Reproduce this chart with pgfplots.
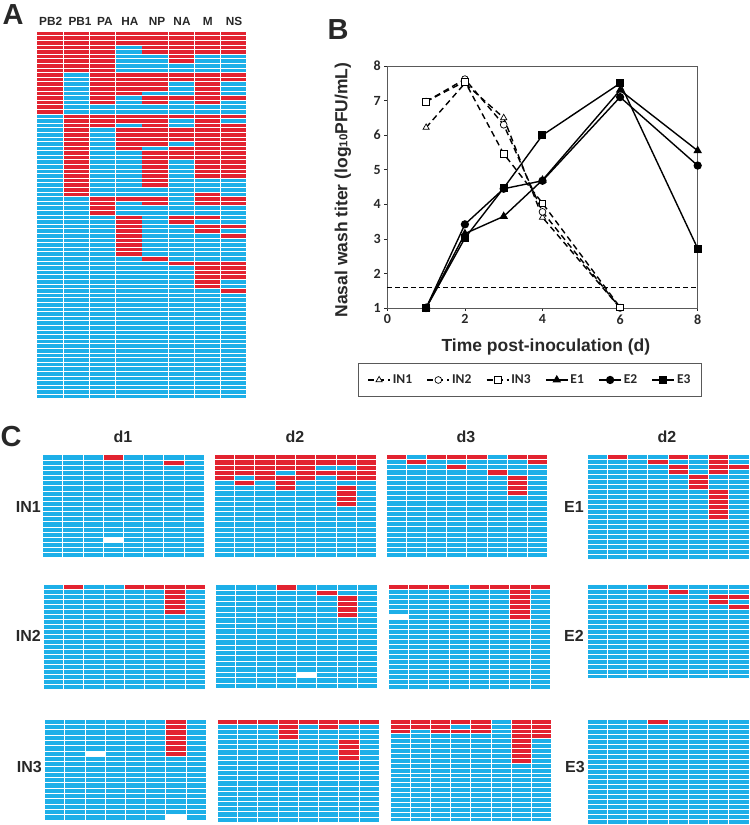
\documentclass[border=0pt]{standalone}
\usepackage{fontspec}
\setmainfont{Liberation Sans}
\newfontfamily\carlito{Carlito}
\usepackage{pgfplots}
\usepackage{pgfplotstable}
\pgfplotsset{compat=1.18}
\definecolor{cellblue}{RGB}{29,175,232}
\definecolor{cellred}{RGB}{226,35,48}
\definecolor{ink}{RGB}{40,40,40}
\pgfdeclareplotmark{cell}{\pgfpathrectangle{\pgfpoint{-0.5*\cellw pt}{-0.5*\cellh pt}}{\pgfpoint{\cellw pt}{\cellh pt}}\pgfusepathqfill}
\newcommand\fs[1]{\fontsize{#1}{#1}\selectfont}

% panel A: 0 blue, 1 red
\pgfplotstableread[header=false]{
1 1 1 1 1 1 1 1
1 1 1 1 1 1 1 1
1 1 1 1 1 1 1 1
1 1 1 0 1 1 1 1
1 1 1 0 1 1 1 1
1 1 1 0 0 1 0 0
1 1 1 0 0 1 0 0
1 1 1 0 0 0 0 0
1 1 1 0 0 0 0 0
1 0 1 1 1 1 1 1
1 0 1 1 1 1 1 1
1 0 1 1 1 0 1 0
1 0 1 1 1 0 1 0
1 0 1 1 0 0 1 0
1 0 1 0 1 1 1 1
1 0 1 0 1 0 1 0
1 0 0 0 0 0 0 0
1 0 0 0 0 0 0 0
0 1 1 1 1 1 1 1
0 1 1 1 1 0 1 0
0 1 1 0 1 0 1 1
0 1 0 1 1 1 1 1
0 1 0 1 1 1 1 1
0 1 0 1 1 1 1 1
0 1 0 1 1 0 1 1
0 1 0 1 0 1 1 1
0 1 0 0 1 1 1 1
0 1 0 0 1 1 1 1
0 1 0 0 1 0 1 1
0 1 0 0 1 0 1 1
0 1 0 0 1 0 1 1
0 1 0 0 1 0 1 1
0 1 0 0 1 0 0 0
0 1 0 0 1 0 0 0
0 1 0 0 0 0 0 0
0 1 0 0 0 0 1 0
0 0 1 1 1 0 1 1
0 0 1 0 1 0 1 1
0 0 1 0 0 0 0 0
0 0 1 0 0 0 0 0
0 0 0 1 0 1 1 0
0 0 0 1 0 1 0 0
0 0 0 1 0 0 1 1
0 0 0 1 0 0 1 0
0 0 0 1 0 0 0 1
0 0 0 1 0 0 0 0
0 0 0 1 0 0 0 0
0 0 0 1 0 0 0 0
0 0 0 1 0 0 0 0
0 0 0 0 1 0 0 0
0 0 0 0 0 1 1 1
0 0 0 0 0 0 1 1
0 0 0 0 0 0 1 1
0 0 0 0 0 0 1 1
0 0 0 0 0 0 1 0
0 0 0 0 0 0 1 0
0 0 0 0 0 0 0 1
0 0 0 0 0 0 0 0
0 0 0 0 0 0 0 0
0 0 0 0 0 0 0 0
0 0 0 0 0 0 0 0
0 0 0 0 0 0 0 0
0 0 0 0 0 0 0 0
0 0 0 0 0 0 0 0
0 0 0 0 0 0 0 0
0 0 0 0 0 0 0 0
0 0 0 0 0 0 0 0
0 0 0 0 0 0 0 0
0 0 0 0 0 0 0 0
0 0 0 0 0 0 0 0
0 0 0 0 0 0 0 0
0 0 0 0 0 0 0 0
0 0 0 0 0 0 0 0
0 0 0 0 0 0 0 0
0 0 0 0 0 0 0 0
0 0 0 0 0 0 0 0
0 0 0 0 0 0 0 0
0 0 0 0 0 0 0 0
0 0 0 0 0 0 0 0
0 0 0 0 0 0 0 0
}\tabA

% panel C, 2 = missing (white)
\pgfplotstableread[header=false]{
0 0 0 1 0 0 0 0
0 0 0 0 0 0 1 0
0 0 0 0 0 0 0 0
0 0 0 0 0 0 0 0
0 0 0 0 0 0 0 0
0 0 0 0 0 0 0 0
0 0 0 0 0 0 0 0
0 0 0 0 0 0 0 0
0 0 0 0 0 0 0 0
0 0 0 0 0 0 0 0
0 0 0 0 0 0 0 0
0 0 0 0 0 0 0 0
0 0 0 0 0 0 0 0
0 0 0 0 0 0 0 0
0 0 0 0 0 0 0 0
0 0 0 0 0 0 0 0
0 0 0 2 0 0 0 0
0 0 0 0 0 0 0 0
0 0 0 0 0 0 0 0
0 0 0 0 0 0 0 0
}\tabINoneA
\pgfplotstableread[header=false]{
1 1 1 1 1 1 1 1
1 1 1 1 1 1 1 1
1 1 1 1 1 0 0 1
1 1 1 0 1 1 1 1
1 0 1 1 1 0 1 1
0 1 0 1 0 0 0 0
0 0 0 1 0 0 1 0
0 0 0 0 0 0 1 0
0 0 0 0 0 0 1 0
0 0 0 0 0 0 1 0
0 0 0 0 0 0 0 0
0 0 0 0 0 0 0 0
0 0 0 0 0 0 0 0
0 0 0 0 0 0 0 0
0 0 0 0 0 0 0 0
0 0 0 0 0 0 0 0
0 0 0 0 0 0 0 0
0 0 0 0 0 0 0 0
0 0 0 0 0 0 0 0
0 0 0 0 0 0 0 0
}\tabINoneB
\pgfplotstableread[header=false]{
1 0 1 1 1 0 1 1
0 1 0 0 0 0 0 1
0 0 0 1 0 0 0 0
0 0 0 0 0 1 0 0
0 0 0 0 0 0 1 0
0 0 0 0 0 0 1 0
0 0 0 0 0 0 1 0
0 0 0 0 0 0 1 0
0 0 0 0 0 0 0 0
0 0 0 0 0 0 0 0
0 0 0 0 0 0 0 0
0 0 0 0 0 0 0 0
0 0 0 0 0 0 0 0
0 0 0 0 0 0 0 0
0 0 0 0 0 0 0 0
0 0 0 0 0 0 0 0
0 0 0 0 0 0 0 0
0 0 0 0 0 0 0 0
0 0 0 0 0 0 0 0
0 0 0 0 0 0 0 0
}\tabINoneC
\pgfplotstableread[header=false]{
0 1 0 0 1 0 1 0
0 0 0 1 0 0 1 0
0 0 0 0 1 0 1 1
0 0 0 0 1 0 1 0
0 0 0 0 0 1 0 0
0 0 0 0 0 1 0 0
0 0 0 0 0 1 0 0
0 0 0 0 0 0 1 0
0 0 0 0 0 0 1 0
0 0 0 0 0 0 1 0
0 0 0 0 0 0 1 0
0 0 0 0 0 0 1 0
0 0 0 0 0 0 1 0
0 0 0 0 0 0 0 0
0 0 0 0 0 0 0 0
0 0 0 0 0 0 0 0
0 0 0 0 0 0 0 0
0 0 0 0 0 0 0 0
0 0 0 0 0 0 0 0
0 0 0 0 0 0 0 0
0 0 0 0 0 0 0 0
}\tabEone
\pgfplotstableread[header=false]{
0 1 0 0 1 1 1 1
0 0 0 0 0 0 1 0
0 0 0 0 0 0 1 0
0 0 0 0 0 0 1 0
0 0 0 0 0 0 1 0
0 0 0 0 0 0 1 0
0 0 0 0 0 0 0 0
0 0 0 0 0 0 0 0
0 0 0 0 0 0 0 0
0 0 0 0 0 0 0 0
0 0 0 0 0 0 0 0
0 0 0 0 0 0 0 0
0 0 0 0 0 0 0 0
0 0 0 0 0 0 0 0
0 0 0 0 0 0 0 0
0 0 0 0 0 0 0 0
0 0 0 0 0 0 0 0
0 0 0 0 0 0 0 0
0 0 0 0 0 0 0 0
0 0 0 0 0 0 0 0
0 0 0 0 0 0 0 0
}\tabINtwoA
\pgfplotstableread[header=false]{
0 0 0 1 0 0 0 0
0 0 0 0 0 1 0 0
0 0 0 0 0 0 1 0
0 0 0 0 0 0 1 0
0 0 0 0 0 0 1 0
0 0 0 0 0 0 1 0
0 0 0 0 0 0 0 0
0 0 0 0 0 0 0 0
0 0 0 0 0 0 0 0
0 0 0 0 0 0 0 0
0 0 0 0 0 0 0 0
0 0 0 0 0 0 0 0
0 0 0 0 0 0 0 0
0 0 0 0 0 0 0 0
0 0 0 0 0 0 0 0
0 0 0 0 0 0 0 0
0 0 0 0 2 0 0 0
0 0 0 0 0 0 0 0
0 0 0 0 0 0 0 0
}\tabINtwoB
\pgfplotstableread[header=false]{
1 1 1 0 1 1 1 1
0 0 0 0 0 0 1 0
0 0 0 0 0 0 1 0
0 0 0 0 0 0 1 0
0 0 0 0 0 0 1 0
0 0 0 0 0 0 1 0
2 0 0 0 0 0 1 0
0 0 0 0 0 0 0 0
0 0 0 0 0 0 0 0
0 0 0 0 0 0 0 0
0 0 0 0 0 0 0 0
0 0 0 0 0 0 0 0
0 0 0 0 0 0 0 0
0 0 0 0 0 0 0 0
0 0 0 0 0 0 0 0
0 0 0 0 0 0 0 0
0 0 0 0 0 0 0 0
0 0 0 0 0 0 0 0
0 0 0 0 0 0 0 0
0 0 0 0 0 0 0 0
0 0 0 0 0 0 0 0
}\tabINtwoC
\pgfplotstableread[header=false]{
0 0 0 1 0 0 0 0
0 0 0 0 1 0 0 0
0 0 0 0 0 0 1 1
0 0 0 0 0 0 1 0
0 0 0 0 0 0 0 1
0 0 0 0 0 0 0 0
0 0 0 0 0 0 0 0
0 0 0 0 0 0 0 0
0 0 0 0 0 0 0 0
0 0 0 0 0 0 0 0
0 0 0 0 0 0 0 0
0 0 0 0 0 0 0 0
0 0 0 0 0 0 0 0
0 0 0 0 0 0 0 0
0 0 0 0 0 0 0 0
0 0 0 0 0 0 0 0
0 0 0 0 0 0 0 0
0 0 0 0 0 0 0 0
0 0 0 0 0 0 0 0
}\tabEtwo
\pgfplotstableread[header=false]{
0 0 0 0 0 0 1 0
0 0 0 0 0 0 1 0
0 0 0 0 0 0 1 0
0 0 0 0 0 0 1 0
0 0 0 0 0 0 1 0
0 0 0 0 0 0 1 0
0 0 2 0 0 0 1 0
0 0 0 0 0 0 0 0
0 0 0 0 0 0 0 0
0 0 0 0 0 0 0 0
0 0 0 0 0 0 0 0
0 0 0 0 0 0 0 0
0 0 0 0 0 0 0 0
0 0 0 0 0 0 0 0
0 0 0 0 0 0 0 0
0 0 0 0 0 0 0 0
0 0 0 0 0 0 0 0
0 0 0 0 0 0 0 0
0 0 0 0 0 0 2 0
}\tabINthreeA
\pgfplotstableread[header=false]{
1 1 1 1 1 1 1 1
0 0 0 1 0 1 0 0
0 0 0 1 0 0 0 0
0 0 0 1 0 0 0 0
0 0 0 0 0 0 1 0
0 0 0 0 0 0 1 0
0 0 0 0 0 0 1 0
0 0 0 0 0 0 1 0
0 0 0 0 0 0 0 0
0 0 0 0 0 0 0 0
0 0 0 0 0 0 0 0
0 0 0 0 0 0 0 0
0 0 0 0 0 0 0 0
0 0 0 0 0 0 0 0
0 0 0 0 0 0 0 0
0 0 0 0 0 0 0 0
0 0 0 0 0 0 0 0
0 0 0 0 0 0 0 0
0 0 0 0 0 0 0 0
0 0 0 0 0 0 0 0
}\tabINthreeB
\pgfplotstableread[header=false]{
1 1 1 1 1 0 1 1
1 1 1 0 1 0 1 1
1 0 1 1 1 0 1 1
0 0 0 0 0 0 1 1
0 0 0 0 0 0 1 0
0 0 0 0 0 0 1 0
0 0 0 0 0 0 1 0
0 0 0 0 0 0 1 0
0 0 0 0 0 0 1 0
0 0 0 0 0 0 0 0
0 0 0 0 0 0 0 0
0 0 0 0 0 0 0 0
0 0 0 0 0 0 0 0
0 0 0 0 0 0 0 0
0 0 0 0 0 0 0 0
0 0 0 0 0 0 0 0
0 0 0 0 0 0 0 0
0 0 0 0 0 0 0 0
0 0 0 0 0 0 0 0
0 0 0 0 0 0 0 0
0 0 0 0 0 0 0 0
}\tabINthreeC
\pgfplotstableread[header=false]{
0 0 0 1 0 0 0 0
0 0 0 0 0 0 0 0
0 0 0 0 0 0 0 0
0 0 0 0 0 0 0 0
0 0 0 0 0 0 0 0
0 0 0 0 0 0 0 0
0 0 0 0 0 0 0 0
0 0 0 0 0 0 0 0
0 0 0 0 0 0 0 0
0 0 0 0 0 0 0 0
0 0 0 0 0 0 0 0
0 0 0 0 0 0 0 0
0 0 0 0 0 0 0 0
0 0 0 0 0 0 0 0
0 0 0 0 0 0 0 0
0 0 0 0 0 0 0 0
0 0 0 0 0 0 0 0
0 0 0 0 0 0 0 0
0 0 0 0 0 0 0 0
0 0 0 0 0 0 0 0
0 0 0 0 0 0 0 0
}\tabEthree

% #1 table, #2 left, #3 right, #4 top, #5 bottom (px from top of image), #6 rows
\newcommand\heat[6]{%
\pgfmathsetmacro\cellw{(#3-#2)/8-1.0}%
\pgfmathsetmacro\cellh{(#5-#4)/#6-1.0}%
\pgfmathsetmacro\py{825-#4}%
\pgfmathsetmacro\pw{#3-#2}%
\pgfmathsetmacro\ph{#5-#4}%
\begin{axis}[at={(#2pt,\py pt)},anchor=north west,scale only axis,
  width=\pw pt,height=\ph pt,axis lines=none,clip=false,
  xmin=-0.5,xmax=7.5,ymin=-0.5,ymax=#6-0.5,y dir=reverse,
  scatter/classes={0={mark=cell,cellblue},1={mark=cell,cellred},2={mark=cell,white}}]
\pgfplotsinvokeforeach{0,...,7}{
  \addplot[scatter,only marks,point meta=explicit symbolic]
    table[x expr=##1,y expr=\coordindex,meta index=##1] {#1};
}
\end{axis}}

\begin{document}
\begin{tikzpicture}[x=1pt,y=1pt]
\path[use as bounding box] (0,0) rectangle (750,825);

\heat{\tabA}{37}{247}{31.3}{399}{80}

\heat{\tabINoneA}{42.7}{204.3}{455}{558}{20}
\heat{\tabINoneB}{214}{376.7}{454.7}{558}{20}
\heat{\tabINoneC}{386}{547.7}{454.3}{558}{20}
\heat{\tabEone}{587.3}{749}{455}{560}{21}
\heat{\tabINtwoA}{43.3}{205.3}{584.3}{689.3}{21}
\heat{\tabINtwoB}{215.7}{377.7}{585}{688.7}{19}
\heat{\tabINtwoC}{388.3}{550.3}{584.3}{689.3}{21}
\heat{\tabEtwo}{587.3}{749}{584.3}{679}{19}
\heat{\tabINthreeA}{44.7}{206.3}{719.3}{820}{19}
\heat{\tabINthreeB}{217.3}{379.3}{719}{822.3}{20}
\heat{\tabINthreeC}{390}{551.7}{719.3}{822}{21}
\heat{\tabEthree}{587.3}{749}{719.7}{824.3}{21}

% panel B
\begin{axis}[at={(387.3pt,759pt)},anchor=north west,scale only axis,
  width=310.4pt,height=242pt,xmin=0,xmax=8,ymin=1,ymax=8,
  xtick={0,2,4,6,8},ytick={1,...,8},tick align=outside,tick style={ink,line width=0.6pt},
  major tick length=3pt,xtick pos=bottom,ytick pos=left,
  axis line style={black!65,line width=0.8pt},clip=false,
  /pgf/number format/assume math mode=true,
  ticklabel style={font=\carlito\bfseries\fs{14},text=ink},
  xlabel={Time post-inoculation (d)},
  ylabel={Nasal wash titer (log{\fs{11.5}10}PFU/mL)},
  label style={font=\bfseries\fs{17.5},text=ink},
  xlabel style={at={(0.511,-0.161)},anchor=center},
  ylabel style={at={(-0.1427,0.4876)},anchor=center},
  legend columns=6,
  legend style={at={(0.4597,-0.2975)},anchor=center,draw=black!65,line width=0.8pt,
    font=\carlito\bfseries\fs{13.5},text=ink,inner xsep=9pt,inner ysep=9pt,
    /tikz/every even column/.append style={column sep=12.5pt}},
  legend cell align=left,
  legend image code/.code={\draw[mark repeat=2,mark phase=2,#1] plot coordinates {(0pt,0pt)(11pt,0pt)(22pt,0pt)};},
  every axis plot/.append style={line width=1.4pt,black},
]
\addplot[forget plot,line width=1.1pt,dash pattern=on 5pt off 3pt] coordinates {(0,1.6) (8,1.6)};
\addplot[dash pattern=on 6pt off 4pt,mark=triangle*,mark size=3.6pt,mark options={solid,fill=white,line width=0.7pt}]
  coordinates {(1,6.22) (2,7.5) (3,6.5) (4,3.62) (6,1)};
\addplot[dash pattern=on 6pt off 4pt,mark=*,mark size=3.4pt,mark options={solid,fill=white,line width=0.7pt}]
  coordinates {(1,6.97) (2,7.62) (3,6.3) (4,3.78) (6,1)};
\addplot[dash pattern=on 6pt off 4pt,mark=square*,mark size=3.3pt,mark options={solid,fill=white,line width=0.7pt}]
  coordinates {(1,6.97) (2,7.55) (3,5.46) (4,4.03) (6,1.02)};
\addplot[mark=triangle*,mark size=3.6pt] coordinates {(1,1) (2,3.15) (3,3.65) (4,4.7) (6,7.3) (8,5.55)};
\addplot[mark=*,mark size=3.4pt] coordinates {(1,1) (2,3.42) (3,4.45) (4,4.68) (6,7.1) (8,5.12)};
\addplot[mark=square*,mark size=3.3pt] coordinates {(1,1) (2,3.02) (3,4.47) (4,6) (6,7.5) (8,2.72)};
\legend{IN1,IN2,IN3,E1,E2,E3}
\end{axis}

% text
\begin{scope}[every node/.style={text=ink,font=\bfseries}]
\node[font=\bfseries\fs{29}] at (13,810) {A};
\node[font=\bfseries\fs{29}] at (338,795) {B};
\node[font=\bfseries\fs{29}] at (11,388) {C};
\foreach \xx/\lab in {50.7/PB2,80/PB1,105/PA,130/HA,157/NP,182/NA,207.7/M,234/NS}
  \node[font=\bfseries\fs{11.8}] at (\xx,803.5) {\lab};
\foreach \xx/\lab in {123/d1,295/d2,466/d3,667/d2}
  \node[font=\bfseries\fs{16}] at (\xx,388) {\lab};
\foreach \xx/\yy/\lab in {41/318/IN1,41/189/IN2,42/58/IN3,584/318/E1,584/189/E2,585/58/E3}
  \node[font=\bfseries\fs{16},anchor=east,inner sep=0pt] at (\xx,\yy) {\lab};
\end{scope}
\end{tikzpicture}
\end{document}
